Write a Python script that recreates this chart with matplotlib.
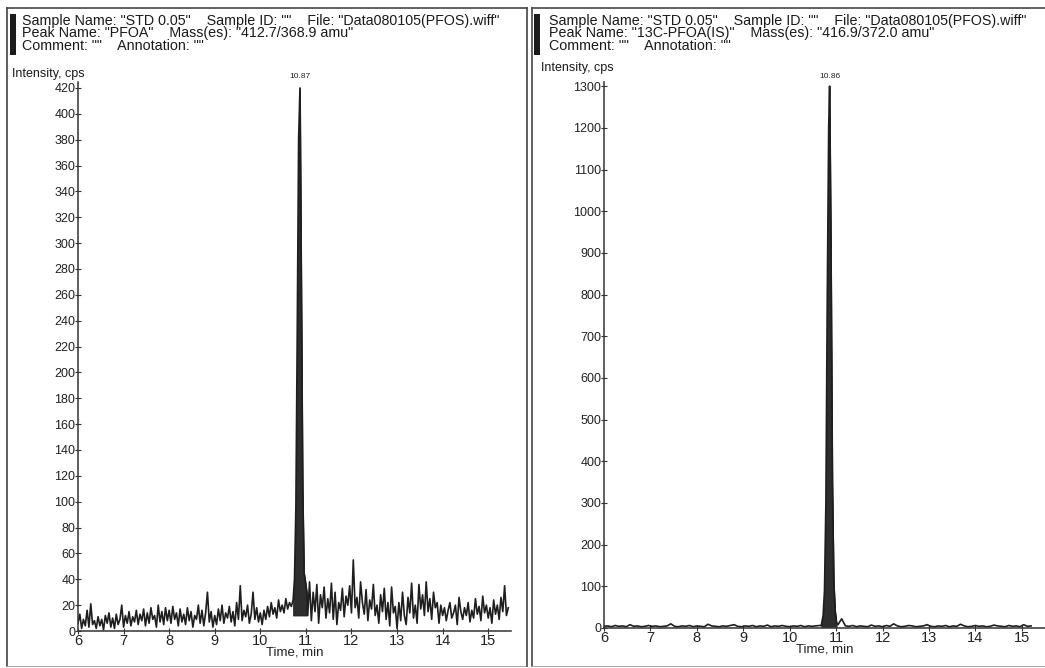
import numpy as np
import matplotlib.pyplot as plt
from matplotlib.lines import Line2D
from matplotlib.patches import Rectangle

plt.rcParams['font.family'] = ['Liberation Sans', 'DejaVu Sans']

# ---- left trace: PFOA 412.7/368.9 ----
left_pre_start = 6.00
left_pre_step = 0.04
left_pre = [6, 13, 2, 9, 4, 16, 3, 21, 5, 8, 2, 11, 4, 9, 1, 12, 6, 14, 3, 10, 2, 13, 5, 9, 20,
            3, 12, 6, 15, 4, 11, 7, 16, 5, 13, 8, 17, 4, 14, 6, 18, 9, 12, 3, 20, 7, 15, 5, 18, 8,
            16, 6, 19, 9, 14, 4, 17, 7, 13, 5, 18, 8, 15, 3, 12, 9, 20, 6, 16, 4, 14, 30, 7, 15, 3,
            12, 5, 17, 8, 20, 6, 14, 10, 19, 7, 15, 4, 22, 9, 35, 8, 16, 11, 20, 6, 13, 30, 9, 18, 7,
            14, 5, 16, 9, 19, 11, 22, 13, 18, 10, 24, 15, 20, 14, 25, 17, 22, 19]
left_peak_t = [10.72, 10.75, 10.78, 10.81, 10.84, 10.87, 10.90, 10.93, 10.96, 10.99, 11.02]
left_peak_v = [24, 40, 95, 230, 380, 420, 270, 110, 45, 38, 30]
left_post_start = 11.04
left_post_step = 0.04
left_post = [12, 38, 8, 30, 15, 36, 6, 28, 18, 34, 10, 25, 14, 37, 9, 30, 5, 22, 16, 33, 11, 27, 20, 35,
             14, 55, 18, 26, 10, 38, 22, 13, 32, 8, 24, 17, 36, 12, 20, 6, 28, 15, 33, 9, 22, 4, 34, 14, 19,
             2, 22, 8, 30, 12, 5, 26, 14, 37, 10, 20, 6, 36, 17, 28, 12, 38, 15, 25, 9, 30, 18, 22, 6, 20,
             12, 18, 8, 16, 22, 10, 14, 20, 5, 26, 15, 9, 18, 12, 22, 7, 16, 10, 25, 13, 19, 8, 27, 14, 20,
             10, 18, 6, 24, 13, 20, 9, 26, 15, 35, 12, 18]
left_fill_base = 12

# ---- right trace: 13C-PFOA(IS) 416.9/372.0 ----
right_pre_start = 6.00
right_pre_step = 0.08
right_pre = [4, 5, 3, 6, 4, 5, 3, 8, 4, 5, 3, 4, 6, 4, 5, 3, 4, 5, 10, 4, 3, 5, 4, 6, 3, 5, 4, 3, 9, 5,
             4, 3, 5, 4, 6, 8, 4, 3, 5, 4, 6, 3, 5, 4, 7, 3, 5, 4, 6, 4, 3, 5, 4, 6, 3, 5, 4, 5, 6]
right_peak_t = [10.68, 10.72, 10.75, 10.78, 10.81, 10.84, 10.86, 10.89, 10.92, 10.95, 10.98, 11.01]
right_peak_v = [6, 30, 90, 300, 800, 1200, 1300, 900, 350, 110, 40, 12]
right_post_start = 11.04
right_post_step = 0.08
right_post = [8, 22, 5, 4, 6, 3, 5, 4, 3, 7, 4, 5, 3, 6, 4, 10, 5, 3, 4, 6, 5, 3, 4, 5, 8, 4, 3,
              5, 4, 6, 3, 5, 4, 9, 5, 3, 4, 6, 4, 5, 3, 4, 7, 5, 4, 3, 6, 4, 5, 3, 8, 4, 5]
right_fill_base = 3

x_ticks = [6, 7, 8, 9, 10, 11, 12, 13, 14, 15]
left_yticks = list(range(0, 421, 20))
right_yticks = list(range(0, 1301, 100))

left_header = ['Sample Name: "STD 0.05"    Sample ID: ""    File: "Data080105(PFOS).wiff"',
               'Peak Name: "PFOA"    Mass(es): "412.7/368.9 amu"',
               'Comment: ""    Annotation: ""']
right_header = ['Sample Name: "STD 0.05"    Sample ID: ""    File: "Data080105(PFOS).wiff"',
                'Peak Name: "13C-PFOA(IS)"    Mass(es): "416.9/372.0 amu"',
                'Comment: ""    Annotation: ""']


def build(pre_start, pre_step, pre, peak_t, peak_v, post_start, post_step, post):
    t = np.concatenate([pre_start + pre_step * np.arange(len(pre)), peak_t,
                        post_start + post_step * np.arange(len(post))])
    v = np.concatenate([pre, peak_v, post])
    return t, v


W, H = 1045, 668
fig = plt.figure(figsize=(W / 100, H / 100), dpi=100)
fig.patch.set_facecolor('white')


def px(x, y):
    return x / W, 1 - y / H


def panel(ax, t, v, peak_t, peak_v, base, ylim, yticks, peak_label):
    ax.plot(t, v, color='#1e1e1e', lw=1.2)
    ax.fill_between(peak_t, base, peak_v, color='#2e2e2e', lw=0.6, edgecolor='#1e1e1e')
    ax.set_xlim(6, 15.5)
    ax.set_ylim(0, ylim)
    ax.set_xticks(x_ticks)
    ax.set_yticks(yticks)
    for s in ['top', 'right']:
        ax.spines[s].set_visible(False)
    for s in ['left', 'bottom']:
        ax.spines[s].set_color('#333333')
        ax.spines[s].set_linewidth(1.1)
    ax.tick_params(axis='both', direction='inout', length=4, width=0.8, colors='#333333',
                   labelcolor='#222222')
    ax.tick_params(axis='y', labelsize=9, pad=0)
    ax.tick_params(axis='x', labelsize=10.5, pad=0)
    ax.set_xlabel('Time, min', fontsize=9.5, labelpad=-1, color='#222222')
    i = int(np.argmax(peak_v))
    ax.text(peak_t[i], ylim * 1.003, peak_label, fontsize=6, ha='center', va='bottom',
            color='#222222', clip_on=False)


# left axes
lt, lv = build(left_pre_start, left_pre_step, left_pre, left_peak_t, left_peak_v,
               left_post_start, left_post_step, left_post)
axl = fig.add_axes([78 / W, 37 / H, 433 / W, 549.5 / H])
panel(axl, lt, lv, left_peak_t, left_peak_v, left_fill_base, 425, left_yticks, '10.87')

# right axes
rt, rv = build(right_pre_start, right_pre_step, right_pre, right_peak_t, right_peak_v,
               right_post_start, right_post_step, right_post)
axr = fig.add_axes([604 / W, 40 / H, 441 / W, 546 / H])
panel(axr, rt, rv, right_peak_t, right_peak_v, right_fill_base, 1310, right_yticks, '10.86')

# panel frames
for x0, x1 in [(7, 527), (532, 1045)]:
    fig.add_artist(Line2D([px(x0, 0)[0], px(x1, 0)[0]], [px(0, 8)[1]] * 2, color='#444444', lw=1.2))
    fig.add_artist(Line2D([px(x0, 0)[0]] * 2, [px(0, 8)[1], px(0, 666)[1]], color='#444444', lw=1.2))
    fig.add_artist(Line2D([px(x0, 0)[0], px(x1, 0)[0]], [px(0, 666)[1]] * 2, color='#aaaaaa', lw=0.8))
fig.add_artist(Line2D([px(527, 0)[0]] * 2, [px(0, 8)[1], px(0, 666)[1]], color='#444444', lw=1.2))

# header bars and text
for bx, tx, lines, ix in [(10, 22, left_header, 12), (534, 549, right_header, 541)]:
    x0, y0 = px(bx, 55)
    fig.add_artist(Rectangle((x0, y0), 6 / W, 41 / H, transform=fig.transFigure,
                             color='#1a1a1a', lw=0))
    for k, line in enumerate(lines):
        fig.text(*px(tx, 25 + 12.5 * k), line, fontsize=10.3, color='#1a1a1a', va='baseline')
    fig.text(*px(ix, 77 if ix == 12 else 71), 'Intensity, cps', fontsize=9, color='#1a1a1a',
             va='baseline')

fig.savefig('out.png', dpi=100, facecolor='white')
